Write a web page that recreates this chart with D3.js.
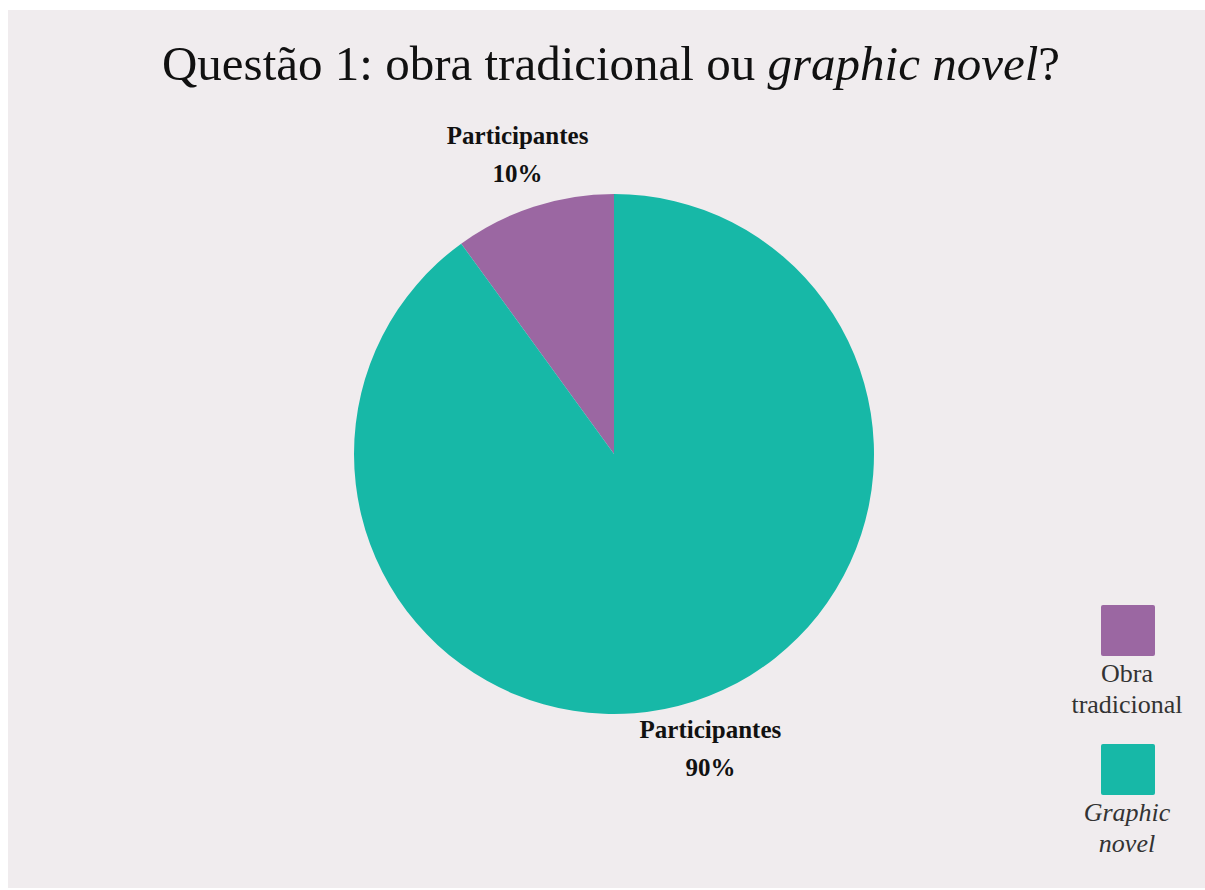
<!DOCTYPE html>
<html lang="pt">
<head>
    <meta charset="UTF-8">
    <title>Questão 1</title>
    <script src="https://d3js.org/d3.v7.min.js"></script>
    <style>
        html, body { margin: 0; padding: 0; background: #ffffff; }
        svg { display: block; }
        text { font-family: "Liberation Serif", "DejaVu Serif", serif; }
    </style>
</head>
<body>
    <div id="chart"></div>
    <script>
        // data
        const categories = ["Obra tradicional", "Graphic novel"];
        const values = [10, 90];
        const colors = ["#9b67a2", "#17b8a7"];
        const sliceLabel = "Participantes";
        const legendLines = [["Obra", "tradicional"], ["Graphic", "novel"]];
        const legendItalic = [false, true];

        const W = 1205, H = 890;
        const cx = 614, cy = 454, radius = 260;

        const svg = d3.select("#chart").append("svg")
            .attr("width", W)
            .attr("height", H);

        svg.append("rect")
            .attr("x", 8).attr("y", 10)
            .attr("width", W - 8).attr("height", H - 12)
            .attr("fill", "#f0ecee");

        // title
        const title = svg.append("text")
            .attr("x", 611).attr("y", 80)
            .attr("text-anchor", "middle")
            .attr("font-size", 49)
            .attr("fill", "#111");
        title.append("tspan").text("Questão 1: obra tradicional ou ");
        title.append("tspan").attr("font-style", "italic").text("graphic novel");
        title.append("tspan").text("?");

        const total = d3.sum(values);
        const pie = d3.pie().sort(null).startAngle(0).endAngle(-2 * Math.PI);
        const arcs = pie(values);

        const arc = d3.arc().innerRadius(0).outerRadius(radius);
        const labelArc = d3.arc().innerRadius(312).outerRadius(312);

        const g = svg.append("g").attr("transform", `translate(${cx},${cy})`);

        g.selectAll("path.slice")
            .data(arcs)
            .join("path")
            .attr("class", "slice")
            .attr("d", arc)
            .attr("fill", (d, i) => colors[i]);

        const labels = g.selectAll("text.lbl")
            .data(arcs)
            .join("text")
            .attr("class", "lbl")
            .attr("transform", d => {
                const [x, y] = labelArc.centroid(d);
                return `translate(${x},${y})`;
            })
            .attr("text-anchor", "middle")
            .attr("font-size", 25)
            .attr("font-weight", "bold")
            .attr("fill", "#111");
        labels.append("tspan").attr("x", 0).attr("y", -13).text(sliceLabel);
        labels.append("tspan").attr("x", 0).attr("y", 25)
            .text(d => Math.round(d.value / total * 100) + "%");

        // legend
        const legendY = [605, 744];
        const legend = svg.append("g");
        categories.forEach((c, i) => {
            legend.append("rect")
                .attr("x", 1101).attr("y", legendY[i])
                .attr("width", 54).attr("height", 51)
                .attr("rx", 2)
                .attr("fill", colors[i]);
            const t = legend.append("text")
                .attr("text-anchor", "middle")
                .attr("font-size", 26)
                .attr("font-style", legendItalic[i] ? "italic" : "normal")
                .attr("fill", "#333");
            legendLines[i].forEach((line, j) => {
                t.append("tspan")
                    .attr("x", 1127)
                    .attr("y", legendY[i] + 77 + j * 31)
                    .text(line);
            });
        });
    </script>
</body>
</html>
